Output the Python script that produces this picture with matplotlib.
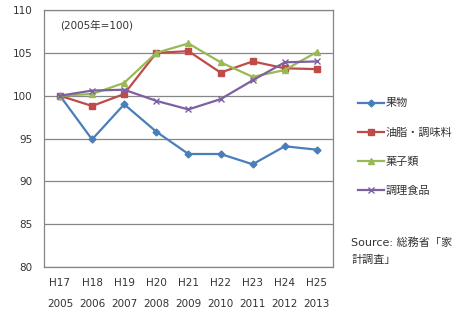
import matplotlib.pyplot as plt

plt.rcParams['font.family'] = ['DejaVu Sans', 'Noto Sans CJK JP']

era = ['H17', 'H18', 'H19', 'H20', 'H21', 'H22', 'H23', 'H24', 'H25']
years = ['2005', '2006', '2007', '2008', '2009', '2010', '2011', '2012', '2013']

fruit = [100.0, 94.9, 99.0, 95.8, 93.2, 93.2, 92.0, 94.1, 93.7]
oils = [100.0, 98.8, 100.2, 105.0, 105.2, 102.7, 104.0, 103.2, 103.1]
sweets = [100.0, 100.2, 101.5, 105.0, 106.1, 103.9, 102.2, 103.0, 105.1]
prepared = [100.0, 100.6, 100.7, 99.4, 98.4, 99.6, 101.8, 103.9, 104.0]

series = [
    ('果物', fruit, '#4A7EBB', 'D', 3.5),
    ('油脂・調味料', oils, '#BE4B48', 's', 4.5),
    ('菓子類', sweets, '#98B954', '^', 4.5),
    ('調理食品', prepared, '#7D60A0', 'x', 5),
]

fig = plt.figure(figsize=(4.67, 3.23), dpi=100)
ax = fig.add_axes([0.094, 0.173, 0.619, 0.796])

x = list(range(len(era)))
for name, vals, color, marker, ms in series:
    ax.plot(x, vals, color=color, lw=1.6, marker=marker, ms=ms,
            mew=1.0, label=name)

ax.set_xlim(-0.5, len(era) - 0.5)
ax.set_ylim(80, 110)
ax.set_yticks(range(80, 111, 5))
ax.yaxis.grid(True, color='#868686', lw=0.9)
ax.set_axisbelow(True)
for s in ax.spines.values():
    s.set_color('#868686')
    s.set_linewidth(0.9)

ax.set_xticks(x)
ax.set_xticklabels([f'{e}\n{y}' for e, y in zip(era, years)])
for lbl in ax.get_xticklabels():
    lbl.set_linespacing(2.3)
ax.tick_params(axis='both', length=0, labelsize=7.5, colors='#333333')
ax.tick_params(axis='x', pad=8)
ax.tick_params(axis='y', pad=8)

ax.text(0.055, 0.94, '(2005年=100)', transform=ax.transAxes,
        fontsize=7.5, color='#333333', va='center')

ax.legend(loc='upper left', bbox_to_anchor=(1.052, 0.695), frameon=False,
          fontsize=8, handlelength=2.35, handletextpad=0.15,
          labelspacing=1.7, labelcolor='#333333')

fig.text(0.752, 0.222, 'Source: 総務省「家\n計調査」', fontsize=8,
         color='#333333', va='center', ha='left', linespacing=1.85)

fig.savefig('out.png', dpi=100)
